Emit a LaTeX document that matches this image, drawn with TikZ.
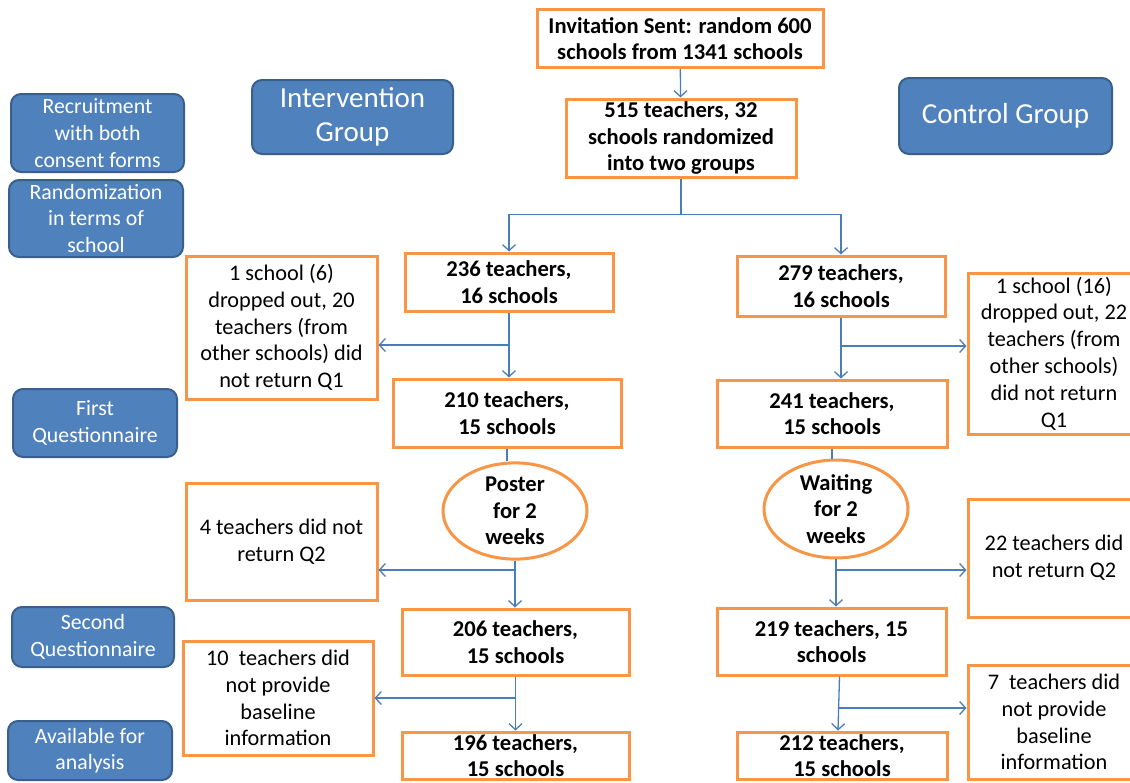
\documentclass[tikz,border=0pt]{standalone}
\usepackage{fontspec}
\setmainfont{Carlito}
\usepackage{xcolor}
\usepackage{tikz}
\usetikzlibrary{positioning,calc,shapes.geometric,arrows.meta}

\definecolor{flowOrange}{HTML}{F79646}
\definecolor{stageBlue}{HTML}{4F81BD}
\definecolor{stageEdge}{HTML}{3A5F8C}
\definecolor{linkBlue}{HTML}{4A7EBB}

\begin{document}
\begin{tikzpicture}[x=1pt,y=-1pt,
		boxsize/.style 2 args={minimum width=#1,minimum height=#2},
		flowbox/.style={draw=flowOrange,line width=3pt,fill=white,align=center,inner sep=1pt,
			font=\fontsize{22.6}{26.6}\selectfont\bfseries},
		dropbox/.style={flowbox,font=\fontsize{22.3}{26.8}\selectfont},
		waitoval/.style={flowbox,ellipse,inner sep=0pt,minimum width=144,minimum height=92},
		stagebox/.style={draw=stageEdge,line width=2pt,fill=stageBlue,rounded corners=10pt,text=white,
			align=center,inner sep=1pt,font=\fontsize{21.8}{26.6}\selectfont},
		groupbox/.style={stagebox,font=\fontsize{29}{34}\selectfont},
		link/.style={draw=linkBlue,line width=1.3pt},
		linkarrow/.style={link,-{Straight Barb[length=6pt,width=13pt,line width=1.3pt]}}]
	
	% khung trang
	\useasboundingbox (0,0) rectangle (1130,782);
	\fill[white] (0,0) rectangle (1130,782);
	\clip (0,0) rectangle (1130,782);
	
	% nhãn giai đoạn bên trái
	\node[stagebox,boxsize={173}{78}] (recruit) at (97.5,133) {Recruitment\\with both\\consent forms};
	\node[stagebox,boxsize={174}{77}] (randomize) at (96,218.5) {Randomization\\in terms of\\school};
	\node[stagebox,boxsize={164}{68}] (firstq) at (95,423) {First\\Questionnaire};
	\node[stagebox,boxsize={162}{60}] (secondq) at (93,637) {Second\\Questionnaire};
	\node[stagebox,boxsize={164}{59}] (analysis) at (90,750.5) {Available for\\analysis};
	
	% tên hai nhóm
	\node[groupbox,boxsize={201}{74}] (intgroup) at (352.5,117) {Intervention\\Group};
	\node[groupbox,boxsize={213}{76}] (congroup) at (1005.5,116) {Control Group};
	
	% cột giữa
	\node[flowbox,boxsize={286}{58}] (invite) at (680,38.5) {Invitation Sent: random 600\\schools from 1341 schools};
	\node[flowbox,boxsize={230}{78}] (rand) at (681,138) {515 teachers, 32\\schools randomized\\into two groups};
	
	% nhóm can thiệp
	\node[flowbox,boxsize={208}{58}] (int1) at (509,282) {236 teachers,\\16 schools};
	\node[flowbox,boxsize={228}{68}] (int2) at (507,413) {210 teachers,\\15 schools};
	\node[waitoval] (poster) at (515,511) {Poster\\for 2\\weeks};
	\node[flowbox,boxsize={227}{66}] (int3) at (515.5,642) {206 teachers,\\15 schools};
	\node[flowbox,boxsize={227}{47}] (int4) at (515.5,755.5) {196 teachers,\\15 schools};
	
	% nhóm đối chứng
	\node[flowbox,boxsize={208}{60}] (con1) at (841,286) {279 teachers,\\16 schools};
	\node[flowbox,boxsize={230}{67}] (con2) at (832,413.5) {241 teachers,\\15 schools};
	\node[waitoval] (waiting) at (836,509) {Waiting\\for 2\\weeks};
	\node[flowbox,boxsize={229}{67}] (con3) at (831.5,641.5) {219 teachers, 15\\schools};
	\node[flowbox,boxsize={210}{47}] (con4) at (842,755.5) {212 teachers,\\15 schools};
	
	% các ô bỏ cuộc
	\node[dropbox,boxsize={191}{143}] (dropa) at (281.5,327.5) {1 school (6)\\dropped out, 20\\teachers (from\\other schools) did\\not return Q1};
	\node[dropbox,boxsize={191}{117}] (dropc) at (281.5,541.5) {4 teachers did not\\return Q2};
	\node[dropbox,boxsize={190}{114}] (drope) at (278,698) {10~ teachers did\\not provide\\baseline\\information};
	\node[dropbox,boxsize={172}{161}] (dropb) at (1054,353.5) {1 school (16)\\dropped out, 22\\teachers (from\\other schools)\\did not return\\Q1};
	\node[dropbox,boxsize={172}{118}] (dropd) at (1054,558) {22 teachers did\\not return Q2};
	\node[dropbox,boxsize={172}{114}] (dropf) at (1054,722) {7~ teachers did\\not provide\\baseline\\information};
	
	% chia hai nhóm
	\draw[linkarrow] (invite) -- (rand);
	\draw[link] (rand.south) -- ++(0,36) coordinate (split);
	\draw[linkarrow] (split) -| (int1);
	\draw[linkarrow] (split) -| (con1);
	
	% mũi tên nhánh can thiệp
	\draw[linkarrow] (int1) -- (int1 |- int2.north);
	\coordinate (forka) at (int1.south |- 0,345);
	\draw[linkarrow] (forka) -- (forka -| dropa.east);
	\draw[link] (int2.south) -- (int2.south |- poster.north);
	\draw[linkarrow] (poster) -- (poster |- int3.north);
	\coordinate (forkc) at (poster.south |- 0,570);
	\draw[linkarrow] (forkc) -- (forkc -| dropc.east);
	\draw[linkarrow] (int3) -- (int3 |- int4.north);
	\coordinate (forke) at (int3.south |- 0,698);
	\draw[linkarrow] (forke) -- (forke -| drope.east);
	
	% mũi tên nhánh đối chứng
	\draw[linkarrow] (con1) -- (con1 |- con2.north);
	\coordinate (forkb) at (con1.south |- 0,346);
	\draw[linkarrow] (forkb) -- (forkb -| dropb.west);
	\draw[link] (con2.south) -- (con2.south |- waiting.north);
	\draw[linkarrow] (waiting) -- (waiting |- con3.north);
	\coordinate (forkd) at (waiting.south |- 0,570);
	\draw[linkarrow] (forkd) -- (forkd -| dropd.west);
	\draw[linkarrow] ($(con3.south)+(8,0)$) -- ($(con4.north)+(-4,0)$);
	\coordinate (forkf) at (839,708);
	\draw[linkarrow] (forkf) -- (forkf -| dropf.west);
\end{tikzpicture}
\end{document}
